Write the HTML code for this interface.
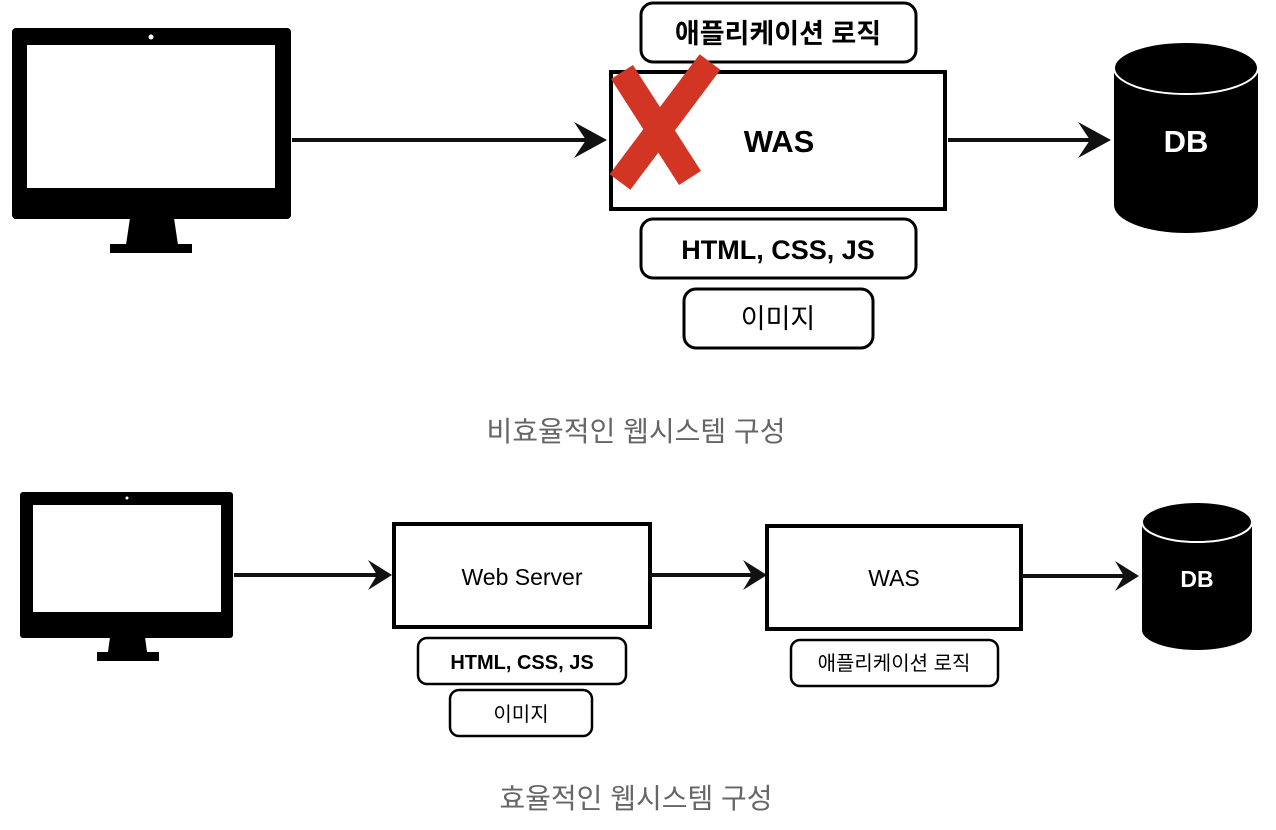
<!DOCTYPE html>
<html><head><meta charset="utf-8"><style>
html,body{margin:0;padding:0;background:#fff;width:1276px;height:830px;overflow:hidden}
text{font-family:"Liberation Sans","Noto Sans CJK KR",sans-serif}
</style></head><body>
<svg width="1276" height="830" viewBox="0 0 1276 830" xmlns="http://www.w3.org/2000/svg">
<!-- TOP -->
<rect x="12" y="28" width="279" height="191" rx="4" fill="#000"/>
<rect x="27" y="45" width="248" height="143" fill="#fff"/>
<circle cx="151" cy="37" r="2.5" fill="#fff"/>
<polygon points="130,218 174,218 178,245 126,245" fill="#000"/>
<rect x="110" y="244" width="82" height="9" fill="#000"/>
<line x1="292" y1="140" x2="600" y2="140" stroke="#111" stroke-width="4"/>
<polygon points="574,122 607,140 574,158 586,140" fill="#111"/>

<rect x="641" y="3" width="275" height="59" rx="12" fill="#fff" stroke="#000" stroke-width="3"/>
<text x="778" y="43" font-size="27" font-weight="bold" text-anchor="middle">애플리케이션 로직</text>
<rect x="611" y="72" width="334" height="137" fill="#fff" stroke="#000" stroke-width="4"/>
<text x="779" y="152" font-size="31" font-weight="bold" text-anchor="middle">WAS</text>
<line x1="622" y1="72" x2="690" y2="178" stroke="#d33524" stroke-width="26"/>
<line x1="710" y1="62" x2="620" y2="182" stroke="#d33524" stroke-width="26"/>
<rect x="641" y="219" width="275" height="59" rx="12" fill="#fff" stroke="#000" stroke-width="3"/>
<text x="778" y="259" font-size="27" font-weight="bold" text-anchor="middle">HTML, CSS, JS</text>
<rect x="684" y="289" width="189" height="59" rx="12" fill="#fff" stroke="#000" stroke-width="3"/>
<text x="778" y="328" font-size="27" text-anchor="middle">이미지</text>

<line x1="948" y1="140" x2="1104" y2="140" stroke="#111" stroke-width="4"/>
<polygon points="1078,122 1111,140 1078,158 1090,140" fill="#111"/>
<path d="M1114,70 L1114,205 A72,28 0 0 0 1258,205 L1258,70 Z" fill="#000"/>
<ellipse cx="1186" cy="68" rx="72" ry="26" fill="#000" stroke="#fff" stroke-width="2"/>
<text x="1186" y="152" font-size="31" font-weight="bold" fill="#fff" text-anchor="middle">DB</text>

<text x="636" y="441" font-size="28" fill="#666" text-anchor="middle">비효율적인 웹시스템 구성</text>

<!-- BOTTOM -->
<rect x="20" y="492" width="213" height="146" rx="3" fill="#000"/>
<rect x="33" y="505" width="188" height="107" fill="#fff"/>
<circle cx="127" cy="498" r="1.5" fill="#fff"/>
<polygon points="110,637 145,637 147,652 108,652" fill="#000"/>
<rect x="97" y="652" width="62" height="9" fill="#000"/>
<line x1="234" y1="575" x2="385" y2="575" stroke="#111" stroke-width="4"/>
<polygon points="368,560 392,575 368,590 377,575" fill="#111"/>

<rect x="394" y="524" width="256" height="103" fill="#fff" stroke="#000" stroke-width="4"/>
<text x="522" y="585" font-size="23" text-anchor="middle">Web Server</text>
<line x1="650" y1="575" x2="760" y2="575" stroke="#111" stroke-width="4"/>
<polygon points="743,560 767,575 743,590 752,575" fill="#111"/>
<rect x="767" y="526" width="254" height="103" fill="#fff" stroke="#000" stroke-width="4"/>
<text x="894" y="586" font-size="23" text-anchor="middle">WAS</text>
<line x1="1022" y1="576" x2="1132" y2="576" stroke="#111" stroke-width="4"/>
<polygon points="1115,561 1139,576 1115,591 1124,576" fill="#111"/>
<path d="M1142,522 L1142,630 A55,20 0 0 0 1252,630 L1252,522 Z" fill="#000"/>
<ellipse cx="1197" cy="522" rx="55" ry="20" fill="#000" stroke="#fff" stroke-width="2"/>
<text x="1197" y="587" font-size="23" font-weight="bold" fill="#fff" text-anchor="middle">DB</text>

<rect x="418" y="638" width="208" height="46" rx="9" fill="#fff" stroke="#000" stroke-width="2.5"/>
<text x="522" y="669" font-size="20" font-weight="bold" text-anchor="middle">HTML, CSS, JS</text>
<rect x="450" y="690" width="142" height="46" rx="9" fill="#fff" stroke="#000" stroke-width="2.5"/>
<text x="521" y="721" font-size="20" text-anchor="middle">이미지</text>
<rect x="791" y="640" width="207" height="46" rx="9" fill="#fff" stroke="#000" stroke-width="2.5"/>
<text x="894" y="670" font-size="20" text-anchor="middle">애플리케이션 로직</text>

<text x="636" y="808" font-size="28" fill="#666" text-anchor="middle">효율적인 웹시스템 구성</text>
</svg>
</body></html>
